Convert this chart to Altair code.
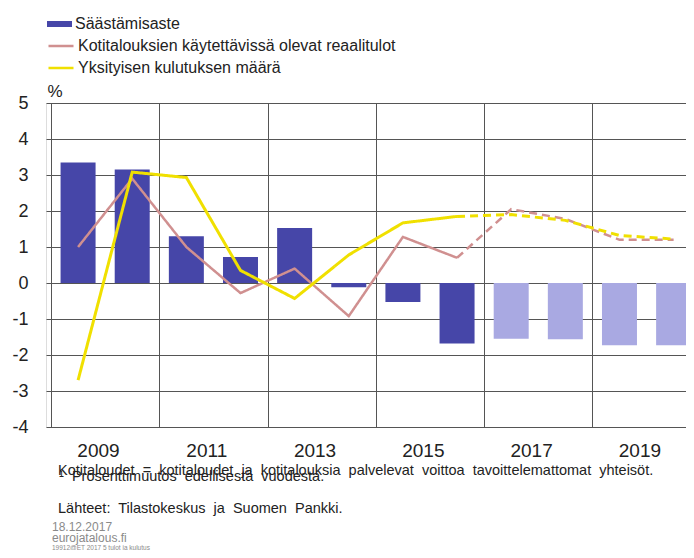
import altair as alt
import pandas as pd

# ---- data ----
years = list(range(2009, 2021))
saving = [3.35, 3.15, 1.30, 0.72, 1.53, -0.12, -0.53, -1.68, -1.55, -1.56, -1.73, -1.73]
income = [1.00, 2.90, 1.00, -0.28, 0.40, -0.92, 1.28, 0.70, 2.05, 1.78, 1.20, 1.20]
consumption = [-2.70, 3.08, 2.93, 0.35, -0.43, 0.78, 1.67, 1.85, 1.90, 1.74, 1.32, 1.22]
forecast_bar_from = 2017
dashed_from = 2016

S_SAVE = "Säästämisaste"
S_INC = "Kotitalouksien käytettävissä olevat reaalitulot"
S_CONS = "Yksityisen kulutuksen määrä"

x_grid = [2008.5, 2010.5, 2012.5, 2014.5, 2016.5, 2018.5]
y_ticks = list(range(-4, 6))

note1 = "Kotitaloudet = kotitaloudet ja kotitalouksia palvelevat voittoa tavoittelemattomat yhteisöt."
note2 = "¹ Prosenttimuutos edellisestä vuodesta."
note3 = "Lähteet: Tilastokeskus ja Suomen Pankki."
foot1 = "18.12.2017"
foot2 = "eurojatalous.fi"
foot3 = "19912@ET 2017 5 tulot ja kulutus"

DARK = "#4646a8"
LIGHT = "#a9a9e2"
PINK = "#d09090"
YELLOW = "#f0e000"
GRID = "#555555"
FONT = "Liberation Sans"

W, H = 640, 324
PX_PER_YEAR = 55.0

bar_df = pd.DataFrame({"year": years, "value": saving, "series": S_SAVE})

rows = []
for name, vals in [(S_INC, income), (S_CONS, consumption)]:
    for y, v in zip(years, vals):
        if y <= dashed_from:
            rows.append({"series": name, "year": y, "value": v, "seg": "a"})
        if y >= dashed_from:
            rows.append({"series": name, "year": y, "value": v, "seg": "b"})
line_df = pd.DataFrame(rows)

xscale = alt.Scale(domain=[2008.5, 2008.5 + W / PX_PER_YEAR], nice=False, zero=False)
yscale = alt.Scale(domain=[-4, 5], nice=False)

xaxis = alt.Axis(values=x_grid, labelExpr="toString(datum.value + 0.5)", title=None,
                 grid=True, gridColor=GRID, gridWidth=1, gridOpacity=1,
                 ticks=False, domain=False, labelFontSize=19, labelColor="#222",
                 labelPadding=14, labelOffset=47, labelAlign="center", labelFlush=False,
                 labelOverlap=False, labelFont=FONT)
yaxis = alt.Axis(values=y_ticks, labelExpr="toString(datum.value)",
                 title="%", titleAngle=0, titleAlign="left",
                 titleBaseline="bottom", titleX=1, titleY=-3, titleFontSize=17,
                 titleFontWeight="normal", titleColor="#222", titleFont=FONT,
                 grid=True, gridColor=GRID, gridWidth=1, gridOpacity=1,
                 ticks=False, domain=False, labelFontSize=18, labelColor="#222",
                 labelPadding=18, labelFont=FONT, labelFlush=False, labelOverlap=False)

X = alt.X("year:Q", scale=xscale, axis=xaxis)
Y = alt.Y("value:Q", scale=yscale, axis=yaxis)

bars = alt.Chart(bar_df).mark_bar(size=35, clip=True).encode(
    x=X, y=Y,
    fill=alt.condition(
        f"datum.year >= {forecast_bar_from}",
        alt.value(LIGHT),
        alt.Fill("series:N", scale=alt.Scale(domain=[S_SAVE], range=[DARK]),
                 legend=alt.Legend(title=None, orient="none", legendX=1, legendY=-87,
                                   symbolType="M-1,-0.24H1V0.24H-1Z", symbolSize=625,
                                   symbolStrokeWidth=0, labelFontSize=16, labelFont=FONT,
                                   labelColor="#222", labelOffset=3, labelLimit=600,
                                   clipHeight=16, padding=0)),
    ),
)

stroke_enc = alt.Stroke(
    "series:N", scale=alt.Scale(domain=[S_INC, S_CONS], range=[PINK, YELLOW]),
    legend=alt.Legend(title=None, orient="none", legendX=1, legendY=-65,
                      symbolType="stroke", symbolSize=625, symbolStrokeWidth=2.5,
                      labelFontSize=16, labelFont=FONT, labelColor="#222",
                      labelOffset=3, labelLimit=600, clipHeight=16, rowPadding=6,
                      padding=0))
dash_enc = alt.StrokeDash("seg:N", scale=alt.Scale(domain=["a", "b"], range=[[1, 0], [8, 5]]),
                          legend=None)

inc_line = alt.Chart(line_df).transform_filter(alt.datum.series == S_INC).mark_line(
    strokeWidth=2.5, clip=True).encode(x=X, y=Y, stroke=stroke_enc, strokeDash=dash_enc,
                                       detail="seg:N")
cons_line = alt.Chart(line_df).transform_filter(alt.datum.series == S_CONS).mark_line(
    strokeWidth=3, clip=True).encode(x=X, y=Y, stroke=stroke_enc, strokeDash=dash_enc,
                                     detail="seg:N")


def wide(t):
    # the reference sets these notes with wide word spacing
    return t.replace(" ", "\u00a0 ")


def txt(t, x, y, size, color="#222"):
    return alt.Chart(pd.DataFrame({"t": [t]})).mark_text(
        align="left", baseline="alphabetic", fontSize=size, color=color, font=FONT
    ).encode(x=alt.value(x), y=alt.value(y), text="t:N")


notes = [
    txt(wide(note1), 12, 372, 14.5),
    txt(wide(note2), 13, 378, 14.5),
    txt(wide(note3), 12, 410, 14.5),
    txt(foot1, 6, 428, 12, "#8a8a8a"),
    txt(foot2, 6, 439, 12, "#8a8a8a"),
    txt(foot3, 6, 446.5, 6.5, "#8a8a8a"),
]

chart = alt.layer(bars, inc_line, cons_line, *notes).properties(
    width=W, height=H,
    autosize=alt.AutoSizeParams(type="none"),
    padding={"left": 38, "top": 95, "right": 0, "bottom": 123},
).configure_view(stroke=None).configure(font=FONT, background="white")

chart.save("out.html", embed_options={"renderer": "svg", "actions": False})
